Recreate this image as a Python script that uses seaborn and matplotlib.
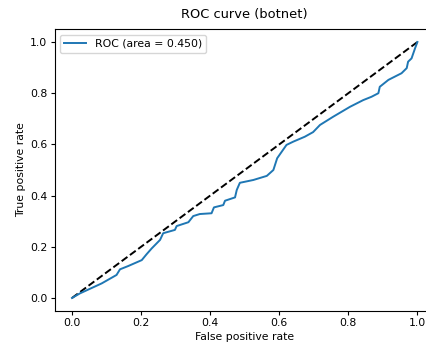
import matplotlib
matplotlib.use("Agg")
import matplotlib.pyplot as plt
import seaborn as sns
import pandas as pd

fpr = [0.0, 0.023, 0.086, 0.129, 0.139, 0.163, 0.202, 0.216, 0.231, 0.255, 0.264,
       0.298, 0.303, 0.337, 0.351, 0.370, 0.404, 0.411, 0.438, 0.443, 0.472, 0.477,
       0.486, 0.525, 0.564, 0.583, 0.594, 0.621, 0.641, 0.674, 0.698, 0.718, 0.756,
       0.805, 0.843, 0.867, 0.887, 0.891, 0.916, 0.935, 0.954, 0.969, 0.973, 0.983,
       0.993, 1.0]
tpr = [0.0, 0.018, 0.057, 0.090, 0.112, 0.125, 0.148, 0.171, 0.194, 0.227, 0.253,
       0.266, 0.281, 0.296, 0.320, 0.328, 0.331, 0.354, 0.363, 0.380, 0.393, 0.422,
       0.450, 0.461, 0.477, 0.500, 0.546, 0.598, 0.611, 0.630, 0.648, 0.676, 0.708,
       0.747, 0.773, 0.786, 0.800, 0.825, 0.852, 0.865, 0.878, 0.898, 0.923, 0.936,
       0.975, 1.0]
auc_label = "ROC (area = 0.450)"
title = "ROC curve (botnet)"

plt.rcParams.update({
    "font.size": 7.8,
    "xtick.major.size": 2.6, "ytick.major.size": 2.6,
    "xtick.major.pad": 2.6, "ytick.major.pad": 2.6,
    "axes.labelpad": 3.0, "axes.titlepad": 8.0,
    "axes.linewidth": 0.8,
})
fig = plt.figure(figsize=(4.26, 3.45), dpi=100)
ax = fig.add_axes([54.7 / 426, 34.2 / 345, 380 / 426, 281.6 / 345])

ax.plot([0, 1], [0, 1], "k--", lw=1.4)
df = pd.DataFrame({"fpr": fpr, "tpr": tpr})
sns.lineplot(data=df, x="fpr", y="tpr", sort=False, estimator=None, ax=ax,
             color="#1f77b4", lw=1.4, label=auc_label)

ax.set_xlim(-0.05, 1.05)
ax.set_ylim(-0.05, 1.05)
ax.set_xticks([0.0, 0.2, 0.4, 0.6, 0.8, 1.0])
ax.set_yticks([0.0, 0.2, 0.4, 0.6, 0.8, 1.0])
ax.set_xlabel("False positive rate")
ax.set_ylabel("True positive rate")
ax.set_title(title)
ax.legend(loc="upper left")

fig.savefig("out.png", dpi=100)
